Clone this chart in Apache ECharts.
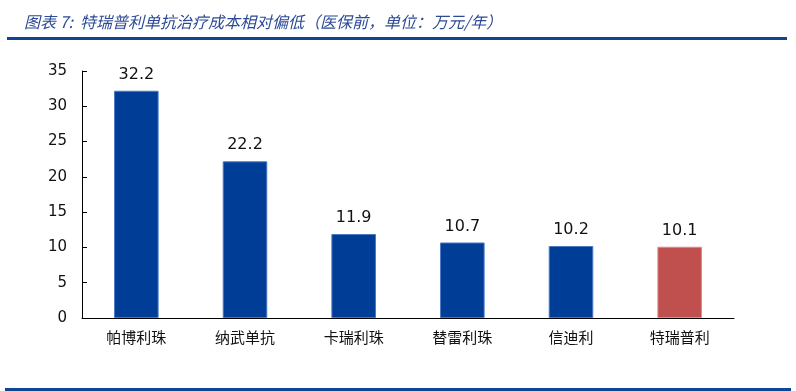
<!DOCTYPE html>
<html><head><meta charset="utf-8">
<script src="https://cdn.jsdelivr.net/npm/echarts@6/dist/echarts.min.js"></script>
<style>html,body{margin:0;padding:0;background:#fff}#c{width:796px;height:391px}</style>
</head><body><div id="c"></div>
<script>
var categories = ['帕博利珠','纳武单抗','卡瑞利珠','替雷利珠','信迪利','特瑞普利'];
var values = [32.2, 22.2, 11.9, 10.7, 10.2, 10.1];
var highlightIndex = 5;
var titleText = '图表 7:  特瑞普利单抗治疗成本相对偏低（医保前，单位：万元/年）';

var chart = echarts.init(document.getElementById('c'));
chart.setOption({
  animation: false,
  title: {
    text: titleText, left: 19, top: 9,
    textStyle: {fontFamily: 'Noto Sans CJK SC', fontStyle: 'italic', fontWeight: 'normal', fontSize: 16, color: '#2C4A95'}
  },
  graphic: [
    {type: 'rect', shape: {x: 7, y: 37, width: 780, height: 3}, style: {fill: '#0E4595'}},
    {type: 'rect', shape: {x: 5, y: 388, width: 786, height: 3}, style: {fill: '#0E4595'}}
  ],
  grid: {left: 82, right: 62, top: 71, bottom: 73},
  xAxis: {
    type: 'category', data: categories,
    axisLine: {lineStyle: {color: '#000', width: 1}},
    axisTick: {inside: true, length: 4, lineStyle: {color: '#000'}},
    axisLabel: {fontFamily: 'Noto Sans CJK SC', fontSize: 15, color: '#111', margin: 12}
  },
  yAxis: {
    type: 'value', min: 0, max: 35, interval: 5,
    splitLine: {show: false},
    axisLine: {show: true, lineStyle: {color: '#000', width: 1}},
    axisTick: {show: true, inside: true, length: 5, lineStyle: {color: '#000'}},
    axisLabel: {fontFamily: 'DejaVu Sans', fontSize: 15, color: '#111', margin: 15}
  },
  series: [{
    type: 'bar', barWidth: '41%',
    data: values.map(function (v, i) {
      return {value: v, itemStyle: i === highlightIndex
        ? {color: '#C0504D', borderColor: '#E08A88', borderWidth: 1}
        : {color: '#003D96', borderColor: '#4A78C2', borderWidth: 1}};
    }),
    label: {show: true, position: 'top', distance: 8, fontFamily: 'DejaVu Sans', fontSize: 16, color: '#111'}
  }]
});
</script></body></html>
